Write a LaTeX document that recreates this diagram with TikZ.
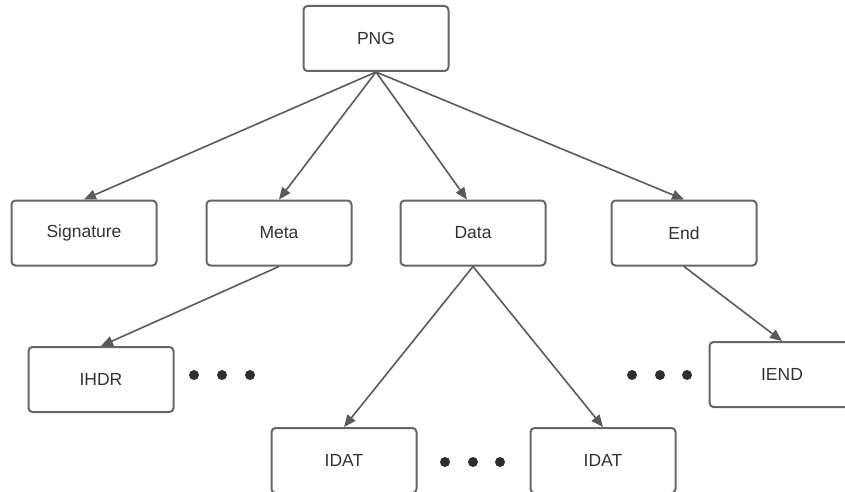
\documentclass[tikz,border=0pt]{standalone}
\usepackage{fontspec}
\setmainfont{Liberation Sans}
\usetikzlibrary{arrows.meta}
\definecolor{edge}{HTML}{5A5A5A}
\definecolor{boxline}{HTML}{666666}
\definecolor{txt}{HTML}{333333}
\begin{document}
\begin{tikzpicture}[x=1pt,y=-1pt,
  blk/.style={draw=boxline, line width=2pt, rounded corners=4pt, fill=white,
    minimum width=145pt, minimum height=65pt, inner sep=0pt, text=txt,
    font=\fontsize{17.5}{20}\selectfont},
  conn/.style={draw=edge, line width=1.6pt, -{Triangle[length=12pt,width=10pt]}},
  dot/.style={circle, fill=txt!90!black, inner sep=0pt, minimum size=10pt}]
\useasboundingbox (0,0) rectangle (845,492);
\clip (0,0) rectangle (845,492);
\node[blk] (png) at (376,38.5) {PNG};
\node[blk] (sig) at (84,233) {Signature};
\node[blk] (meta) at (279,233) {Meta};
\node[blk] (data) at (473,233) {Data};
\node[blk] (end) at (684,233) {End};
\node[blk] (ihdr) at (101,379.5) {IHDR};
\node[blk] (iend) at (782,374.5) {IEND};
\node[blk] (idat1) at (344,460.5) {IDAT};
\node[blk] (idat2) at (603,460.5) {IDAT};
\draw[conn] (png.south) -- (sig.north);
\draw[conn] (png.south) -- (meta.north);
\draw[conn] (png.south) -- ([xshift=-6pt]data.north);
\draw[conn] (png.south) -- (end.north);
\draw[conn] (meta.south) -- (ihdr.north);
\draw[conn] (data.south) -- (idat1.north);
\draw[conn] (data.south) -- (idat2.north);
\draw[conn] (end.south) -- (iend.north);
\node[dot] (d1) at (194,375) {};
\node[dot] (d2) at (222,375) {};
\node[dot] (d3) at (250,375) {};
\node[dot] (d4) at (445,462) {};
\node[dot] (d5) at (473,462) {};
\node[dot] (d6) at (500,462) {};
\node[dot] (d7) at (632,375) {};
\node[dot] (d8) at (660,375) {};
\node[dot] (d9) at (687,375) {};
\end{tikzpicture}
\end{document}
